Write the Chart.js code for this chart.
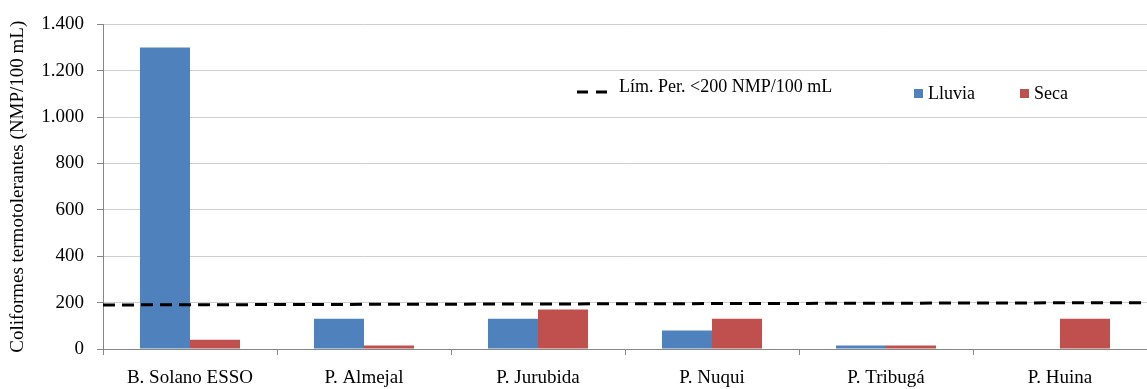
<!DOCTYPE html>
<html>
<head>
<meta charset="utf-8">
<script src="https://cdn.jsdelivr.net/npm/chart.js@4"></script>
<style>
html,body{margin:0;padding:0;background:#fff;}
#wrap{width:1147px;height:389px;}
</style>
</head>
<body>
<div id="wrap"><canvas id="graph" width="1147" height="389"></canvas></div>
<script>
const sites=["B. Solano ESSO","P. Almejal","P. Jurubida","P. Nuqui","P. Tribugá","P. Huina"];
const lluvia=[1300,130,130,80,15,0];
const seca=[40,15,170,130,15,130];
const limitLine=[190,200];
const limitLabel="Lím. Per. <200 NMP/100 mL";
const yTicks=[0,200,400,600,800,1000,1200,1400];

const serif="'Liberation Serif','Times New Roman',serif";

/* limit line across the whole plot, through the y scale */
const limit={
id:"limit",
afterDatasetsDraw(chart){
const c=chart.ctx,a=chart.chartArea,y=chart.scales.y;
c.save();
c.strokeStyle="#000";
c.lineWidth=3;
c.setLineDash([12,7]);
c.beginPath();
c.moveTo(a.left,y.getPixelForValue(limitLine[0]));
c.lineTo(a.right,y.getPixelForValue(limitLine[1]));
c.stroke();
c.restore();
}
};

/* legend drawn inside the plot, like the original */
const legendBox={
id:"legendBox",
afterDraw(chart){
const c=chart.ctx;
c.save();
c.font="18px "+serif;
c.fillStyle="#000";
c.textBaseline="middle";
c.strokeStyle="#000";
c.lineWidth=3;
c.setLineDash([11,8]);
c.beginPath();c.moveTo(577,92);c.lineTo(607,92);c.stroke();
c.setLineDash([]);
c.fillText(limitLabel,619,87);
const ds=chart.data.datasets;
c.fillStyle=ds[0].backgroundColor;c.fillRect(914,89,9,9);
c.fillStyle="#000";c.fillText(ds[0].label,928,94);
c.fillStyle=ds[1].backgroundColor;c.fillRect(1020,89,9,9);
c.fillStyle="#000";c.fillText(ds[1].label,1034,94);
c.restore();
}
};

new Chart(document.getElementById("graph"),{
type:"bar",
data:{
labels:sites,
datasets:[
{label:"Lluvia",data:lluvia,backgroundColor:"#4F81BD",categoryPercentage:0.575,barPercentage:1},
{label:"Seca",data:seca,backgroundColor:"#C0504D",categoryPercentage:0.575,barPercentage:1}
]
},
options:{
responsive:false,
animation:false,
layout:{padding:{top:16,right:0,left:0,bottom:0}},
plugins:{legend:{display:false},tooltip:{enabled:false}},
scales:{
x:{
grid:{display:true,drawOnChartArea:false,drawTicks:true,tickLength:6,offset:true,color:"#868686"},
border:{color:"#868686"},
ticks:{color:"#000",font:{family:serif,size:19},padding:12,maxRotation:0},
afterFit(s){s.height=40;}
},
y:{
min:0,max:1400,
afterBuildTicks(s){s.ticks=yTicks.map(v=>({value:v}));},
grid:{color:"#CFCFCF",tickLength:6,tickColor:"#868686"},
border:{color:"#868686"},
ticks:{color:"#000",font:{family:serif,size:19},padding:13,
callback:v=>v.toLocaleString("de-DE")},
title:{display:true,text:"Coliformes termotolerantes (NMP/100 mL)",color:"#000",font:{family:serif,size:19},padding:{top:7,bottom:0}},
afterFit(s){s.width=103;}
}
}
},
plugins:[limit,legendBox]
});
</script>
</body>
</html>
